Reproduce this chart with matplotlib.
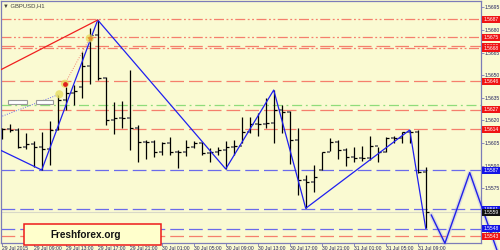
import matplotlib
matplotlib.use("Agg")
import matplotlib.pyplot as plt
from matplotlib.patches import Rectangle
from matplotlib.transforms import blended_transform_factory

# ---------------- data ----------------
symbol = "GBPUSD,H1"
highs = [1.56147, 1.56173, 1.56147, 1.56114, 1.56063, 1.56125, 1.56195, 1.56368, 1.56423, 1.56434,
         1.56651, 1.56810, 1.56866, 1.56490, 1.56319, 1.56328, 1.56534, 1.56169, 1.56069, 1.56069,
         1.56058, 1.56091, 1.56003, 1.56069, 1.56063, 1.56058, 1.56018, 1.56025, 1.56063, 1.56069,
         1.56224, 1.56224, 1.56246, 1.56350, 1.56401, 1.56302, 1.56262, 1.56147, 1.55837, 1.55903,
         1.55992, 1.56085, 1.56069, 1.56014, 1.56025, 1.56029, 1.56098, 1.56025, 1.56091, 1.56098,
         1.56125, 1.56136, 1.56136, 1.55892]
lows = [1.56076, 1.56125, 1.56014, 1.56010, 1.55892, 1.55870, 1.55903, 1.56136, 1.56268, 1.56302,
        1.56346, 1.56439, 1.56468, 1.56169, 1.56107, 1.56147, 1.56003, 1.55925, 1.55943, 1.55959,
        1.55970, 1.55970, 1.55886, 1.55965, 1.56018, 1.55970, 1.55925, 1.55970, 1.55877, 1.55970,
        1.56047, 1.56114, 1.56098, 1.56147, 1.56047, 1.56114, 1.55908, 1.55704, 1.55616, 1.55722,
        1.55870, 1.55996, 1.55943, 1.55899, 1.55925, 1.55930, 1.55937, 1.55921, 1.55992, 1.56047,
        1.56047, 1.56047, 1.55848, 1.55483]
opens = [1.56142, 1.56142, 1.56136, 1.56025, 1.56040, 1.56021, 1.56007, 1.56136, 1.56335, 1.56379,
         1.56423, 1.56563, 1.56766, 1.56479, 1.56202, 1.56218, 1.56213, 1.56147, 1.56054, 1.56054,
         1.55987, 1.56047, 1.55992, 1.55992, 1.56025, 1.56047, 1.55981, 1.55992, 1.56003, 1.56025,
         1.56032, 1.56125, 1.56173, 1.56173, 1.56180, 1.56268, 1.56257, 1.56069, 1.55804, 1.55793,
         1.55870, 1.55987, 1.56058, 1.56003, 1.55959, 1.55948, 1.55948, 1.56032, 1.55992, 1.56080,
         1.56080, 1.56120, 1.56120, 1.55859]
closes = [1.56142, 1.56136, 1.56025, 1.56040, 1.56021, 1.56007, 1.56136, 1.56335, 1.56379, 1.56395,
          1.56563, 1.56766, 1.56479, 1.56202, 1.56218, 1.56213, 1.56147, 1.56054, 1.56054, 1.55987,
          1.56047, 1.55992, 1.55992, 1.56025, 1.56047, 1.55981, 1.55992, 1.56003, 1.56025, 1.56032,
          1.56125, 1.56173, 1.56173, 1.56180, 1.56268, 1.56257, 1.56069, 1.55804, 1.55793, 1.55826,
          1.55987, 1.56058, 1.56003, 1.55959, 1.55948, 1.55948, 1.56032, 1.55992, 1.56080, 1.56080,
          1.56120, 1.56120, 1.55859, 1.55594]

time_tick_bars = [0, 4, 8, 12, 16, 20, 24, 28, 32, 36, 40, 44, 48, 52]
time_tick_labels = ["29 Jul 2015", "29 Jul 09:00", "29 Jul 13:00", "29 Jul 17:00", "29 Jul 21:00",
                    "30 Jul 01:00", "30 Jul 05:00", "30 Jul 09:00", "30 Jul 13:00", "30 Jul 17:00",
                    "30 Jul 21:00", "31 Jul 01:00", "31 Jul 05:00", "31 Jul 09:00"]
price_ticks = [1.5695, 1.5680, 1.5665, 1.5650, 1.5635, 1.5620, 1.5605, 1.5590, 1.5575, 1.5560, 1.5545]

red_levels = [1.5687, 1.5675, 1.5669, 1.5668, 1.5646, 1.5627, 1.5614, 1.5543]
red_styles = ["dd", "dd", "dash", "dd", "dash", "dash", "dash", "dash"]
blue_levels = [1.5587, 1.5561, 1.5548]
green_level = 1.5630
bid_price = 1.5559

zigzag_x = [-0.2, 5, 12, 28, 34, 38, 51, 53]
zigzag_y = [1.56003, 1.55870, 1.56866, 1.55877, 1.56401, 1.55616, 1.56136, 1.55483]
red_trend_x = [-0.1, 12]
red_trend_y = [1.56536, 1.56866]
proj_x = [53.7, 55.4, 58.5, 61.9]
proj_y = [1.55571, 1.55384, 1.55853, 1.55339]
trade_x = [7.2, 7.9, 11.0]
trade_y = [1.56373, 1.56443, 1.56744]
dot_blue_x = [-0.2, 7.2]
dot_blue_y = [1.56222, 1.56373]
dot_red_x = [7.9, 11.0]
dot_red_y = [1.56443, 1.56744]

# ---------------- style ----------------
BG = "#fafad2"
FRAME = "#7c7cb8"
NAVY = "#23235f"
RED = "#f57f6c"
BLUE = "#6b6bea"
FONT = "Liberation Sans"
W, H = 500, 250

fig = plt.figure(figsize=(5, 2.5), dpi=100)
fig.patch.set_facecolor(BG)
ax = fig.add_axes([1 / W, 7.5 / H, 480 / W, 241.5 / H])
ax.set_facecolor(BG)
ax.set_xlim(-0.09, 59.91)
ax.set_ylim(1.55389, 1.56992)
for s in ax.spines.values():
    s.set_color(FRAME)
    s.set_linewidth(0.9)

dd = (0, (8, 2, 1.5, 2, 1.5, 2))
dash = (0, (11, 4))

# level lines
for lv, st in zip(red_levels, red_styles):
    ax.axhline(lv, color=RED, lw=0.9, linestyle=dd if st == "dd" else dash, zorder=1)
for lv in blue_levels:
    ax.axhline(lv, color=BLUE, lw=0.9, linestyle=dash, zorder=1)
ax.axhline(green_level, color="#8edc7a", lw=0.9, linestyle=(0, (8, 3, 1.5, 3)), zorder=1)
ax.axhline(bid_price, color="#d8d8c8", lw=0.8, zorder=1)

# bars
idx = list(range(len(highs)))
ax.vlines(idx, lows, highs, color="black", lw=0.9, zorder=3)
ax.hlines(opens, [i - 0.3 for i in idx], idx, color="#6e6e6e", lw=1.3, zorder=3)
ax.hlines(closes, idx, [i + 0.35 for i in idx], color="black", lw=0.9, zorder=3)

# zigzag & trend lines
ax.plot(zigzag_x, zigzag_y, color="#1f1ff0", lw=0.9, zorder=4)
ax.plot(red_trend_x, red_trend_y, color="#f01f1f", lw=0.9, zorder=4)
ax.plot(dot_blue_x, dot_blue_y, color="#6b6bea", lw=0.7, linestyle=(0, (1, 1.5)), zorder=4)
ax.plot(dot_red_x, dot_red_y, color="#f08070", lw=0.7, linestyle=(0, (1, 1.5)), zorder=4)
ax.scatter(trade_x, trade_y, s=34, color="#e6dc5a", alpha=0.75, edgecolors="none", zorder=5)
ax.scatter(trade_x[1:2], trade_y[1:2], s=6, color="#e02020", zorder=6)
ax.scatter(trade_x[2:3], trade_y[2:3], s=8, color="#e89030", marker="*", zorder=6)

# small labels (white boxes)
for x0, x1 in [(0.8, 3.2), (4.3, 6.4)]:
    ax.add_patch(Rectangle((x0, 1.56308), x1 - x0, 0.00030,
                           fc="white", ec="#9a9a9a", lw=0.8, zorder=6))

# projection swoosh (outside axes)
ax.plot(proj_x, proj_y, color="#8080ff", lw=3.0, alpha=0.25, clip_on=False, zorder=6,
        solid_joinstyle="round")
ax.plot(proj_x, proj_y, color="#2020e8", lw=1.0, clip_on=False, zorder=7)

# axes ticks
ax.yaxis.tick_right()
ax.set_yticks(price_ticks)
ax.set_yticklabels([f"{p:.4f}" for p in price_ticks], family=FONT)
ax.tick_params(axis="y", length=2, width=0.6, color=FRAME, pad=0.5, labelsize=3.6, labelcolor=NAVY)
ax.set_xticks(time_tick_bars)
ax.set_xticklabels(time_tick_labels, ha="left", family=FONT)
ax.tick_params(axis="x", length=2, width=0.6, color=FRAME, pad=0.3, labelsize=3.6, labelcolor=NAVY)

# price boxes on right
tr = blended_transform_factory(ax.transAxes, ax.transData)
def price_box(p, fc):
    ax.text(1.005, p, f"{p:.4f}", transform=tr, fontsize=3.6, family=FONT, color="white",
            ha="left", va="center", clip_on=False, zorder=9,
            bbox=dict(boxstyle="square,pad=0.2", fc=fc, ec="none"))
for lv in red_levels:
    price_box(lv, "#f01414")
for lv in blue_levels:
    price_box(lv, "#1414e6")
price_box(bid_price, "#101010")

# title
fig.text(3 / W, 1 - 5.5 / H, "\u25BC " + symbol, fontsize=4.2, family=[FONT, "DejaVu Sans"],
         color="#404040", ha="left", va="center")

# Freshforex box
fig.patches.append(Rectangle((24 / W, 5 / H), 137 / W, 21 / H, transform=fig.transFigure,
                             fc="#ffffcc", ec="#ee1a1a", lw=1.1, zorder=20))
fig.text(86 / W, 1 - 234.5 / H, "Freshforex.org", fontsize=7.2, fontweight="bold",
         family=FONT, color="#111111", ha="center", va="center", zorder=21)

fig.savefig("out.png", dpi=100, facecolor=BG)
